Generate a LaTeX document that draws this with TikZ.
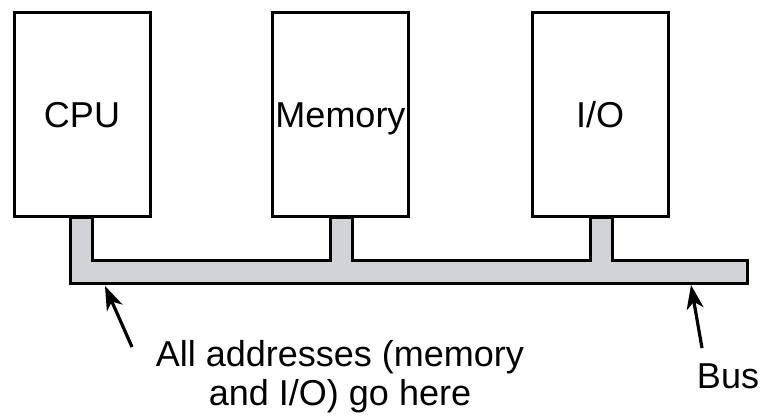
\documentclass[tikz,border=0pt]{standalone}
\usepackage{fontspec}
\setmainfont{Liberation Sans}
\usetikzlibrary{arrows.meta}
\definecolor{busgray}{RGB}{210,211,214}
\begin{document}
\begin{tikzpicture}[x=1pt,y=-1pt,
  unit/.style={draw=black,line width=3pt,minimum width=136pt,minimum height=204pt,inner sep=0pt,text height=26pt,text depth=0pt,font=\fontsize{36}{38}\selectfont},
  lbl/.style={font=\fontsize{36}{39}\selectfont,align=center,inner sep=0pt},
  ptr/.style={line width=3.2pt,arrows={-Stealth[length=24pt,width=17pt,inset=7pt]}}]
\useasboundingbox (0,0) rectangle (763,418);
% bus
\draw[line width=3pt,fill=busgray,line join=miter]
  (70,217) -- (70,283) -- (747,283) -- (747,260) -- (612,260) -- (612,217)
  -- (590,217) -- (590,260) -- (352,260) -- (352,217) -- (330,217) -- (330,260)
  -- (92,260) -- (92,217) -- cycle;
\node[unit] (cpu) at (82,114) {CPU};
\node[unit] (mem) at (340.5,114) {Memory};
\node[unit] (io) at (600,114) {I/O};
\node[lbl] (addr) at (340,377) {All addresses (memory\\and I/O) go here};
\node[lbl,anchor=base] (bus) at (728,388) {Bus};
\coordinate (a1) at (132,347);
\coordinate (a2) at (105,286);
\coordinate (b1) at (702,348);
\coordinate (b2) at (691,285);
\draw[ptr] (a1) -- (a2);
\draw[ptr] (b1) -- (b2);
\end{tikzpicture}
\end{document}
